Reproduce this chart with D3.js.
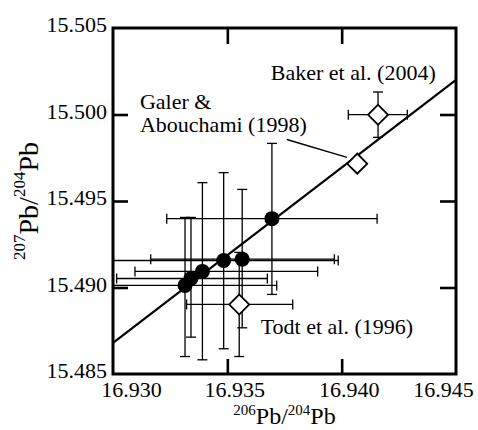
<!DOCTYPE html>
<html>
<head>
<meta charset="utf-8">
<script src="https://cdn.jsdelivr.net/npm/d3@7"></script>
<style>
  body { margin: 0; background: #fff; }
</style>
</head>
<body>
<div id="chart"></div>
<script>
// filled circles (this study) with error bar ends
var ptX = [16.93315, 16.93341, 16.93391, 16.93484, 16.93565, 16.93695];
var ptY = [15.49012, 15.49052, 15.49093, 15.49156, 15.49164, 15.49398];
var ptXLo = [16.92913, 16.93016, 16.93096, 16.92983, 16.93165, 16.93235];
var ptXHi = [16.93716, 16.93675, 16.93895, 16.93985, 16.93968, 16.94155];
var ptYLo = [15.48601, 15.48713, 15.48582, 15.48646, 15.48767, 15.48960];
var ptYHi = [15.49405, 15.49405, 15.49606, 15.49664, 15.49567, 15.49833];

// literature values (open diamonds)
var litNames = ["Todt et al. (1996)", "Galer & Abouchami (1998)", "Baker et al. (2004)"];
var litX = [16.93552, 16.94068, 16.94159];
var litY = [15.48902, 15.49716, 15.49999];
var litXLo = [16.93322, null, 16.94029];
var litXHi = [16.93786, null, 16.94287];
var litYLo = [15.48601, null, 15.49868];
var litYHi = [15.49203, null, 15.50130];

// regression line end points
var lineX = [16.930, 16.945];
var lineY = [15.4868, 15.5020];

// axis ticks
var xTicks = [16.930, 16.935, 16.940, 16.945];
var yTicks = [15.485, 15.490, 15.495, 15.500, 15.505];

// label anchors in data units
var labelX = [16.93646, 16.93118, 16.93690];
var labelY = [15.48733, 15.50030, 15.50198];
var leaderX = [16.93760, 16.94023];
var leaderY = [15.49856, 15.49752];

var serif = "'Liberation Serif', 'DejaVu Serif', 'Times New Roman', Times, serif";

var svgWidth = 478;
var svgHeight = 430;
var margin = { top: 28, right: 22, bottom: 56, left: 113 };
var chartWidth = svgWidth - margin.left - margin.right;
var chartHeight = svgHeight - margin.top - margin.bottom;

var svg = d3.select("#chart")
  .append("svg")
  .attr("width", svgWidth)
  .attr("height", svgHeight)
  .style("font-family", serif);

var chartGroup = svg.append("g")
  .attr("transform", `translate(${margin.left}, ${margin.top})`);

var x = d3.scaleLinear().domain([16.930, 16.945]).range([0, chartWidth]);
var y = d3.scaleLinear().domain([15.485, 15.505]).range([chartHeight, 0]);

svg.append("defs").append("clipPath")
  .attr("id", "plotClip")
  .append("rect")
  .attr("width", chartWidth)
  .attr("height", chartHeight);

var fmt = d3.format(".3f");

// axes with inward ticks
var leftAxis = chartGroup.append("g")
  .call(d3.axisLeft(y).tickValues(yTicks).tickFormat(fmt).tickSizeInner(-15).tickSizeOuter(0).tickPadding(6));
var bottomAxis = chartGroup.append("g")
  .attr("transform", `translate(0, ${chartHeight})`)
  .call(d3.axisBottom(x).tickValues(xTicks).tickFormat(fmt).tickSizeInner(-15).tickSizeOuter(0).tickPadding(7));
var topAxis = chartGroup.append("g")
  .call(d3.axisTop(x).tickValues(xTicks.slice(1, 3)).tickFormat("").tickSizeInner(-16).tickSizeOuter(0));
var rightAxis = chartGroup.append("g")
  .attr("transform", `translate(${chartWidth}, 0)`)
  .call(d3.axisRight(y).tickValues(yTicks.slice(1, 4)).tickFormat("").tickSizeInner(-16).tickSizeOuter(0));

[leftAxis, bottomAxis, topAxis, rightAxis].forEach(function(ax) {
  ax.attr("font-family", null).style("font-family", serif);
  ax.select(".domain").remove();
  ax.selectAll(".tick line").attr("stroke", "#000").attr("stroke-width", 2.6);
  ax.selectAll(".tick text").attr("font-size", 22).attr("fill", "#000").style("font-family", serif);
});
// no tick marks in the corners
leftAxis.selectAll(".tick line").filter(d => d === 15.485 || d === 15.505).remove();
bottomAxis.selectAll(".tick line").filter(d => d === 16.930 || d === 16.945).remove();
leftAxis.selectAll(".tick text").attr("y", -3.5);
bottomAxis.selectAll(".tick text")
  .attr("dx", d => d === 16.930 ? 18 : (d === 16.945 ? -13 : 7));

// error bars
var barGroup = chartGroup.append("g").attr("clip-path", "url(#plotClip)")
  .attr("stroke", "#000").attr("stroke-width", 1.3).attr("fill", "none");
var cap = 5;

function drawBars(xs, ys, xLo, xHi, yLo, yHi) {
  xs.forEach(function(xv, i) {
    if (xLo[i] === null) return;
    var cx = x(xv), cy = y(ys[i]);
    barGroup.append("line").attr("x1", x(xLo[i])).attr("x2", x(xHi[i])).attr("y1", cy).attr("y2", cy);
    barGroup.append("line").attr("x1", x(xLo[i])).attr("x2", x(xLo[i])).attr("y1", cy - cap).attr("y2", cy + cap);
    barGroup.append("line").attr("x1", x(xHi[i])).attr("x2", x(xHi[i])).attr("y1", cy - cap).attr("y2", cy + cap);
    barGroup.append("line").attr("x1", cx).attr("x2", cx).attr("y1", y(yLo[i])).attr("y2", y(yHi[i]));
    barGroup.append("line").attr("x1", cx - cap).attr("x2", cx + cap).attr("y1", y(yLo[i])).attr("y2", y(yLo[i]));
    barGroup.append("line").attr("x1", cx - cap).attr("x2", cx + cap).attr("y1", y(yHi[i])).attr("y2", y(yHi[i]));
  });
}
drawBars(ptX, ptY, ptXLo, ptXHi, ptYLo, ptYHi);
drawBars(litX, litY, litXLo, litXHi, litYLo, litYHi);

// regression line
chartGroup.append("line")
  .attr("clip-path", "url(#plotClip)")
  .attr("x1", x(lineX[0])).attr("y1", y(lineY[0]))
  .attr("x2", x(lineX[1])).attr("y2", y(lineY[1]))
  .attr("stroke", "#000").attr("stroke-width", 2.2);

// leader line for Galer & Abouchami
chartGroup.append("line")
  .attr("x1", x(leaderX[0])).attr("y1", y(leaderY[0]))
  .attr("x2", x(leaderX[1])).attr("y2", y(leaderY[1]))
  .attr("stroke", "#000").attr("stroke-width", 1.5);

// filled circles
chartGroup.selectAll("circle")
  .data(ptX)
  .enter()
  .append("circle")
  .attr("cx", d => x(d))
  .attr("cy", (d, i) => y(ptY[i]))
  .attr("r", 7.5)
  .attr("fill", "#000");

// open diamonds
chartGroup.selectAll(".lit")
  .data(litX)
  .enter()
  .append("path")
  .classed("lit", true)
  .attr("d", d3.symbol(d3.symbolSquare, 200))
  .attr("transform", (d, i) => `translate(${x(d)}, ${y(litY[i])}) rotate(45)`)
  .attr("fill", "#fff")
  .attr("stroke", "#000")
  .attr("stroke-width", 1.8);

// labels
var labelGroup = chartGroup.append("g").attr("font-size", 22).style("font-family", serif);
labelGroup.append("text")
  .attr("x", x(labelX[0])).attr("y", y(labelY[0]))
  .text(litNames[0]);
var galer = labelGroup.append("text")
  .attr("x", x(labelX[1])).attr("y", y(labelY[1]));
galer.append("tspan").text("Galer &");
galer.append("tspan").attr("x", x(labelX[1])).attr("dy", 22.7).text("Abouchami (1998)");
labelGroup.append("text")
  .attr("x", x(labelX[2])).attr("y", y(labelY[2]))
  .text(litNames[2]);

// frame
chartGroup.append("rect")
  .attr("width", chartWidth)
  .attr("height", chartHeight)
  .attr("fill", "none")
  .attr("stroke", "#000")
  .attr("stroke-width", 3);

// axis titles
var xTitle = svg.append("text")
  .attr("text-anchor", "middle")
  .attr("x", margin.left + chartWidth / 2)
  .attr("y", 424)
  .attr("font-size", 24);
xTitle.append("tspan").attr("font-size", 15).attr("dy", -9).text("206");
xTitle.append("tspan").attr("dy", 9).text("Pb/");
xTitle.append("tspan").attr("font-size", 15).attr("dy", -9).text("204");
xTitle.append("tspan").attr("dy", 9).text("Pb");

var yTitle = svg.append("text")
  .attr("text-anchor", "middle")
  .attr("transform", `translate(38, ${margin.top + chartHeight / 2}) rotate(-90)`)
  .attr("font-size", 28);
yTitle.append("tspan").attr("font-size", 17).attr("dy", -13).text("207");
yTitle.append("tspan").attr("dy", 13).text("Pb/");
yTitle.append("tspan").attr("font-size", 17).attr("dy", -13).text("204");
yTitle.append("tspan").attr("dy", 13).text("Pb");
</script>
</body>
</html>
